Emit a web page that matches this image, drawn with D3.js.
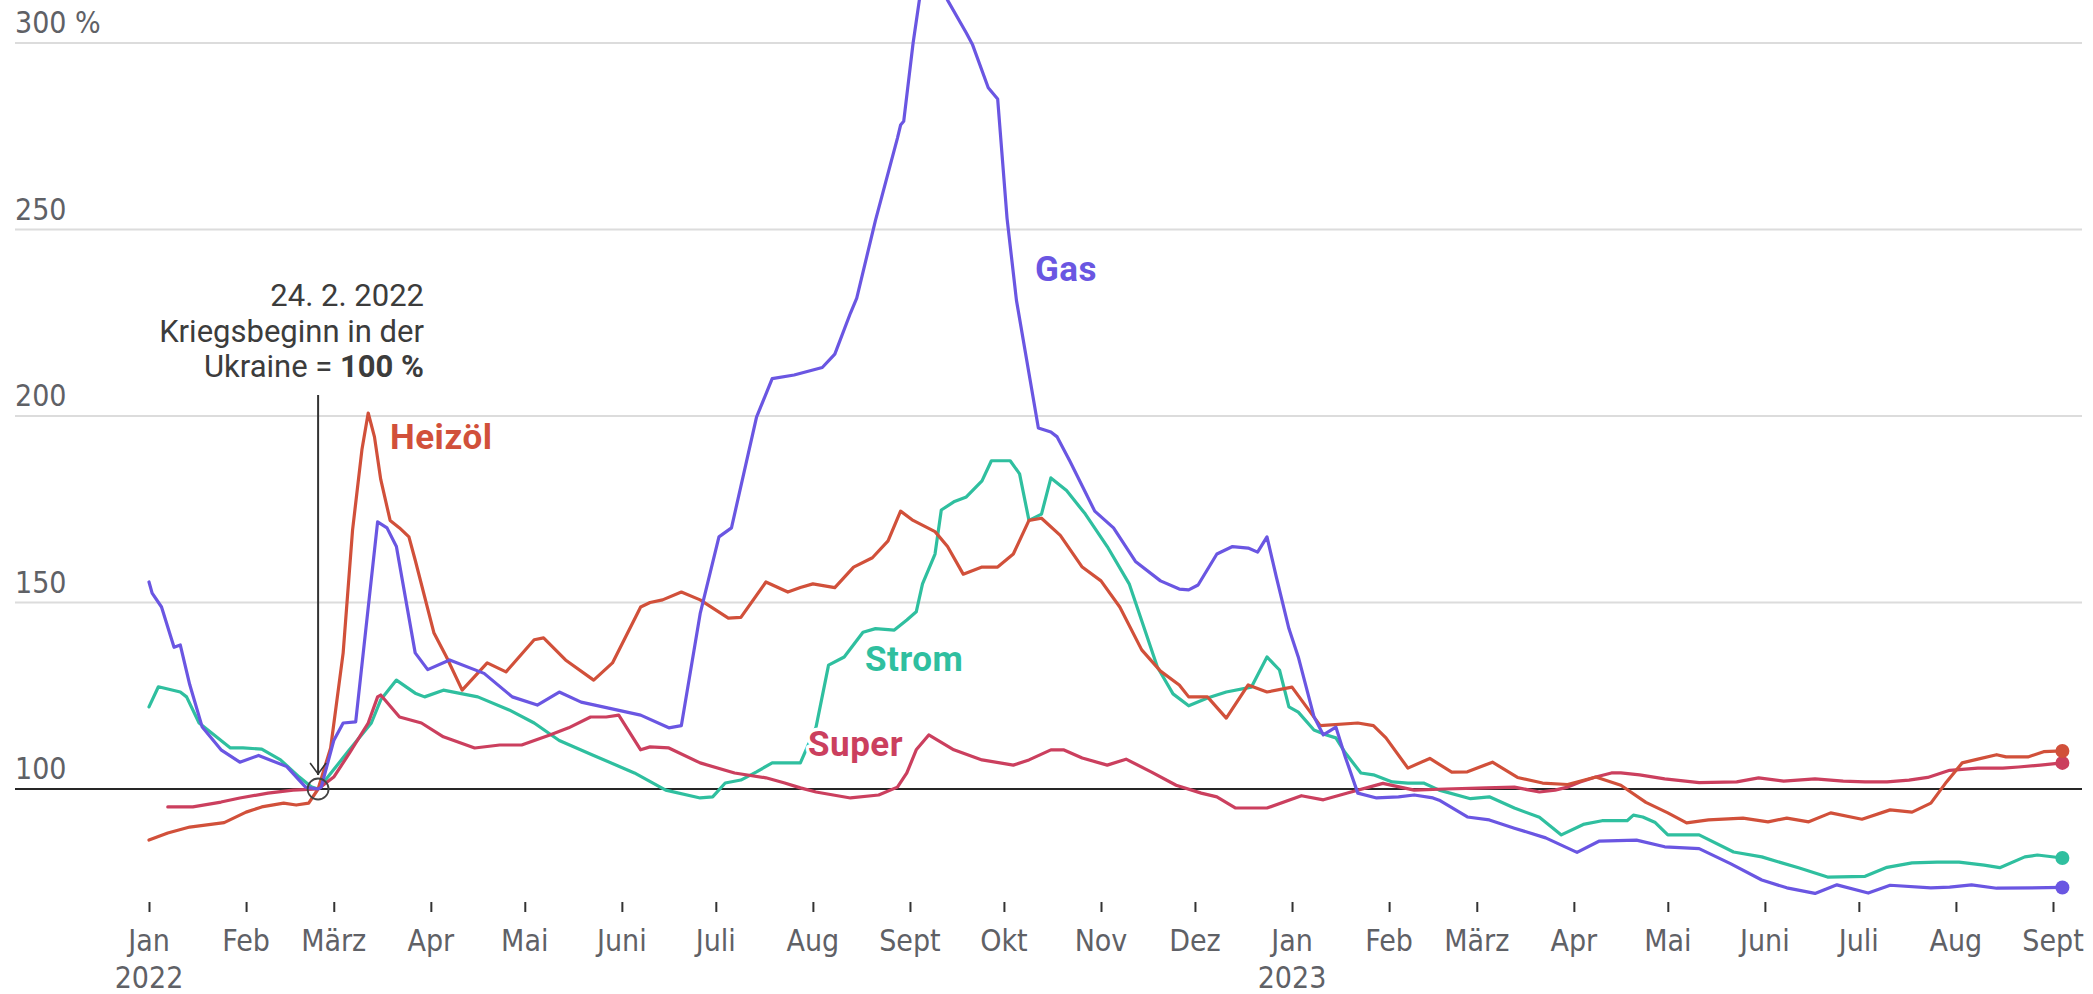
<!DOCTYPE html>
<html><head><meta charset="utf-8">
<script src="https://cdn.jsdelivr.net/npm/d3@7"></script>
<style>
html,body{margin:0;padding:0;background:#fff;}
svg{display:block;}
.ax{font-family:'DejaVu Sans Condensed','DejaVu Sans',sans-serif;font-stretch:condensed;font-size:30px;fill:#5f6166;}
.ann{font-family:Roboto,'Noto Sans',sans-serif;font-size:31px;fill:#3c3c3c;}
.lab{font-family:Roboto,'Noto Sans',sans-serif;font-size:35px;font-weight:700;letter-spacing:0.5px;stroke:#fff;stroke-width:7px;paint-order:stroke;stroke-linejoin:round;}
</style></head>
<body>
<script>
// ---- data ----
const monthLabels = ["Jan","Feb","März","Apr","Mai","Juni","Juli","Aug","Sept","Okt","Nov","Dez"];
const yTicks = [100,150,200,250,300];
const seriesNames = ["Strom","Super","Heizöl","Gas"];
const seriesColors = {Gas:"#6a56e2", "Heizöl":"#d1503a", Strom:"#2fbf9f", Super:"#cb3f5e"};

const gas = [
["2022-01-01",155.5],["2022-01-02",152.5],["2022-01-05",148.8],["2022-01-09",138],["2022-01-11",138.6],
["2022-01-14",128],["2022-01-18",116.6],["2022-01-24",110.5],["2022-01-30",107.2],["2022-02-05",109],
["2022-02-14",106],["2022-02-20",100.5],["2022-02-24",100],["2022-02-25",100.5],["2022-03-01",113],
["2022-03-04",117.7],["2022-03-08",118],["2022-03-15",171.6],["2022-03-18",170],["2022-03-21",165],
["2022-03-27",136.5],["2022-03-31",132],["2022-04-07",134.6],["2022-04-18",131],["2022-04-27",124.7],
["2022-05-05",122.5],["2022-05-12",126],["2022-05-19",123.3],["2022-06-07",119.8],["2022-06-16",116.4],
["2022-06-20",117],["2022-06-26",147],["2022-07-02",167.6],["2022-07-06",170],["2022-07-14",199.7],
["2022-07-19",210],["2022-07-26",211],["2022-08-04",213],["2022-08-08",216.6],["2022-08-13",227.6],
["2022-08-15",231.6],["2022-08-21",252.5],["2022-08-28",274.5],["2022-08-29",278],["2022-08-30",279],
["2022-09-02",300],["2022-09-04",311.5],["2022-09-08",320],["2022-09-13",311.5],["2022-09-19",302.7],
["2022-09-21",299.5],["2022-09-26",288],["2022-09-29",285],["2022-10-02",253],["2022-10-05",231],
["2022-10-12",196.8],["2022-10-16",195.7],["2022-10-18",194.4],["2022-10-22",188],["2022-10-30",174.5],
["2022-11-05",170],["2022-11-12",161],["2022-11-20",155.8],["2022-11-26",153.6],["2022-11-29",153.4],
["2022-12-02",154.7],["2022-12-08",163],["2022-12-13",165],["2022-12-18",164.6],["2022-12-21",163.5],
["2022-12-24",167.6],["2022-12-27",156.8],["2022-12-31",143],["2023-01-03",135.4],["2023-01-08",119.4],
["2023-01-11",114.5],["2023-01-15",116.6],["2023-01-18",108.6],["2023-01-22",98.9],["2023-01-28",97.6],
["2023-02-04",97.9],["2023-02-09",98.4],["2023-02-15",97.6],["2023-02-17",97],["2023-02-26",92.5],
["2023-03-05",91.7],["2023-03-13",89.5],["2023-03-23",86.9],["2023-04-02",83],["2023-04-09",86],
["2023-04-21",86.3],["2023-04-30",84.5],["2023-05-11",84],["2023-05-21",80],["2023-05-31",75.6],
["2023-06-08",73.5],["2023-06-17",72],["2023-06-24",74.3],["2023-07-04",72.1],["2023-07-11",74.2],
["2023-07-24",73.5],["2023-07-30",73.7],["2023-08-06",74.3],["2023-08-14",73.4],["2023-09-04",73.6]
];

const heizoel = [
["2022-01-01",86.3],["2022-01-07",88.2],["2022-01-14",89.8],["2022-01-25",91],["2022-02-01",93.8],
["2022-02-06",95.2],["2022-02-13",96.2],["2022-02-17",95.7],["2022-02-21",96.2],["2022-02-24",100],
["2022-02-28",111],["2022-03-04",136.5],["2022-03-07",169.4],["2022-03-10",191],["2022-03-12",200.8],
["2022-03-14",194.4],["2022-03-16",183],["2022-03-19",172],["2022-03-22",170],["2022-03-25",167.6],
["2022-03-27",161.4],["2022-04-02",141.8],["2022-04-06",135.4],["2022-04-11",126.5],["2022-04-19",133.8],
["2022-04-25",131.4],["2022-05-04",140],["2022-05-07",140.5],["2022-05-14",134.6],["2022-05-23",129.2],
["2022-05-29",133.8],["2022-06-07",148.8],["2022-06-10",150],["2022-06-14",150.7],["2022-06-20",152.8],
["2022-06-26",150.7],["2022-07-05",145.8],["2022-07-09",146],["2022-07-17",155.5],["2022-07-24",152.8],
["2022-07-28",154],["2022-08-01",155],["2022-08-08",154],["2022-08-14",159.5],["2022-08-20",162],
["2022-08-25",166.5],["2022-08-29",174.5],["2022-09-02",172],["2022-09-09",169],["2022-09-13",165],
["2022-09-18",157.6],["2022-09-24",159.5],["2022-09-29",159.5],["2022-10-04",163],["2022-10-09",172],
["2022-10-13",172.6],["2022-10-19",168],["2022-10-26",159.5],["2022-11-01",155.8],["2022-11-07",148.8],
["2022-11-14",137.3],["2022-11-20",131.6],["2022-11-26",127.9],["2022-11-29",124.7],["2022-12-05",124.7],
["2022-12-11",119],["2022-12-18",127.9],["2022-12-24",126],["2023-01-01",127.3],["2023-01-10",117],
["2023-01-22",117.7],["2023-01-27",117],["2023-01-31",113.7],["2023-02-07",105.6],["2023-02-14",108.2],
["2023-02-21",104.5],["2023-02-26",104.6],["2023-03-06",107.2],["2023-03-14",103.1],["2023-03-22",101.6],
["2023-03-30",101.2],["2023-04-08",103.2],["2023-04-16",101],["2023-04-24",96.4],["2023-05-01",93.6],
["2023-05-07",90.9],["2023-05-14",91.7],["2023-05-25",92.2],["2023-06-02",91.2],["2023-06-08",92.2],
["2023-06-15",91.2],["2023-06-22",93.6],["2023-07-02",91.9],["2023-07-11",94.4],["2023-07-18",93.8],
["2023-07-24",96.2],["2023-07-29",101.9],["2023-08-03",107],["2023-08-08",108],["2023-08-14",109.2],
["2023-08-17",108.6],["2023-08-24",108.6],["2023-08-29",110],["2023-09-04",110.2]
];

const strom = [
["2022-01-01",122],["2022-01-04",127.4],["2022-01-11",126],["2022-01-13",124.7],["2022-01-17",117.7],
["2022-01-27",111],["2022-01-31",111],["2022-02-06",110.7],["2022-02-12",107.8],["2022-02-18",103.2],
["2022-02-22",100.5],["2022-02-24",100],["2022-02-25",101],["2022-03-06",110.5],["2022-03-13",117.7],
["2022-03-16",123.9],["2022-03-21",129.2],["2022-03-27",125.7],["2022-03-30",124.7],["2022-04-05",126.5],
["2022-04-16",124.7],["2022-04-26",121.2],["2022-05-04",117.7],["2022-05-12",113],["2022-05-23",109],
["2022-06-05",104.3],["2022-06-15",99.7],["2022-06-26",97.6],["2022-06-30",97.9],["2022-07-04",101.6],
["2022-07-09",102.4],["2022-07-14",104.6],["2022-07-19",107],["2022-07-28",107],["2022-08-02",116.6],
["2022-08-06",133.2],["2022-08-11",135.4],["2022-08-17",142],["2022-08-21",143],["2022-08-27",142.6],
["2022-08-31",145.3],["2022-09-03",147.5],["2022-09-05",155],["2022-09-09",163],["2022-09-11",174.8],
["2022-09-15",177],["2022-09-19",178.3],["2022-09-24",182.6],["2022-09-27",188],["2022-10-03",188],
["2022-10-06",184.5],["2022-10-09",172],["2022-10-13",173.7],["2022-10-16",183.4],["2022-10-21",180],
["2022-10-27",173.7],["2022-11-03",165],["2022-11-10",155],["2022-11-15",142.6],["2022-11-19",132.7],
["2022-11-24",125.5],["2022-11-29",122.3],["2022-12-05",124.4],["2022-12-11",126],["2022-12-19",127.3],
["2022-12-24",135.4],["2022-12-28",131.9],["2022-12-31",122],["2023-01-03",120.6],["2023-01-08",115.8],
["2023-01-12",114.5],["2023-01-15",113.7],["2023-01-18",109.7],["2023-01-23",104.3],["2023-01-27",103.8],
["2023-02-02",101.9],["2023-02-07",101.6],["2023-02-12",101.6],["2023-02-17",99.7],["2023-02-27",97.4],
["2023-03-05",97.9],["2023-03-13",94.9],["2023-03-21",92.4],["2023-03-28",87.7],["2023-04-04",90.5],
["2023-04-10",91.5],["2023-04-18",91.5],["2023-04-20",93],["2023-04-23",92.5],["2023-04-27",91],
["2023-05-01",87.7],["2023-05-11",87.7],["2023-05-22",83.1],["2023-05-31",81.8],["2023-06-12",78.8],
["2023-06-21",76.4],["2023-07-03",76.6],["2023-07-10",79],["2023-07-18",80.2],["2023-07-26",80.4],
["2023-08-02",80.4],["2023-08-10",79.6],["2023-08-15",78.9],["2023-08-23",81.8],["2023-08-27",82.3],
["2023-09-04",81.5]
];

const superBenzin = [
["2022-01-07",95.2],["2022-01-15",95.2],["2022-01-24",96.5],["2022-01-30",97.6],["2022-02-08",98.9],
["2022-02-16",99.7],["2022-02-24",100],["2022-03-01",103.2],["2022-03-06",109.6],["2022-03-12",117.7],
["2022-03-15",124.7],["2022-03-16",125.2],["2022-03-22",119.3],["2022-03-29",117.7],["2022-04-05",114],
["2022-04-15",111],["2022-04-23",111.8],["2022-04-30",111.8],["2022-05-09",114.5],["2022-05-15",116.4],
["2022-05-22",119.3],["2022-05-27",119.3],["2022-05-31",119.8],["2022-06-07",110.5],["2022-06-10",111.3],
["2022-06-16",111],["2022-06-26",107],["2022-07-07",104.3],["2022-07-17",103],["2022-07-23",101.6],
["2022-07-28",100.3],["2022-08-02",99.2],["2022-08-13",97.6],["2022-08-22",98.4],["2022-08-28",100.5],
["2022-08-31",104.3],["2022-09-03",110.5],["2022-09-07",114.5],["2022-09-15",110.5],["2022-09-24",107.8],
["2022-10-04",106.4],["2022-10-09",107.8],["2022-10-16",110.5],["2022-10-20",110.5],["2022-10-26",108.3],
["2022-11-03",106.4],["2022-11-09",108],["2022-11-17",104.6],["2022-11-25",101],["2022-12-03",98.9],
["2022-12-08",97.9],["2022-12-14",94.9],["2022-12-24",94.9],["2023-01-04",98.2],["2023-01-11",97.1],
["2023-01-19",99],["2023-01-30",101.5],["2023-02-09",99.7],["2023-02-19",100],["2023-03-04",100.3],
["2023-03-13",100.5],["2023-03-21",99.2],["2023-03-26",99.7],["2023-03-30",100.5],["2023-04-03",101.9],
["2023-04-08",103.2],["2023-04-13",104.3],["2023-04-16",104.3],["2023-04-22",103.8],["2023-04-30",102.7],
["2023-05-11",101.7],["2023-05-23",101.9],["2023-05-30",103],["2023-06-07",102.1],["2023-06-17",102.7],
["2023-06-26",102.1],["2023-07-03",101.9],["2023-07-10",101.9],["2023-07-17",102.4],["2023-07-23",103.1],
["2023-07-30",105],["2023-08-08",105.6],["2023-08-16",105.6],["2023-08-21",105.9],["2023-08-28",106.4],
["2023-09-04",107]
];

const seriesData = {Gas:gas, "Heizöl":heizoel, Strom:strom, Super:superBenzin};
const warDate = "2022-02-24";

// ---- chart ----
const W = 2093, H = 994;
const parse = d3.utcParse("%Y-%m-%d");
const svg = d3.select("body").append("svg").attr("width", W).attr("height", H);

const x = d3.scaleUtc().domain([parse("2022-01-01"), parse("2023-09-01")]).range([149, 2053]);
const y = d3.scaleLinear().domain([100, 300]).range([789, 43]);

const gridX0 = 15, gridX1 = 2082;

// gridlines
svg.append("g").selectAll("line").data(yTicks.filter(v => v !== 100)).join("line")
  .attr("x1", gridX0).attr("x2", gridX1)
  .attr("y1", d => y(d)).attr("y2", d => y(d))
  .attr("stroke", "#dcdcdc").attr("stroke-width", 2);

// y labels
svg.append("g").selectAll("text").data(yTicks).join("text")
  .attr("class", "ax")
  .attr("x", gridX0).attr("y", d => y(d) - 10)
  .text(d => d === 300 ? d + " %" : d);

// x axis
const months = d3.utcMonth.range(parse("2022-01-01"), d3.utcDay.offset(parse("2023-09-01"), 1));
const xAxis = d3.axisBottom(x).tickValues(months).tickSize(10).tickFormat("");
const gx = svg.append("g").attr("transform", "translate(0,902)").call(xAxis);
gx.select(".domain").remove();
gx.selectAll(".tick line").attr("stroke", "#333").attr("stroke-width", 2);

const xl = svg.append("g").selectAll("text").data(months).join("text")
  .attr("class", "ax").attr("text-anchor", "middle")
  .attr("x", d => x(d)).attr("y", 951);
xl.append("tspan").text(d => monthLabels[d.getUTCMonth()]);
xl.filter(d => d.getUTCMonth() === 0).append("tspan")
  .attr("x", d => x(d)).attr("y", 988).text(d => d.getUTCFullYear());

// baseline 100
svg.append("line").attr("x1", gridX0).attr("x2", gridX1)
  .attr("y1", y(100)).attr("y2", y(100)).attr("stroke", "#262626").attr("stroke-width", 2.2);

// lines
const line = d3.line().x(d => x(parse(d[0]))).y(d => y(d[1]));
seriesNames.forEach(name => {
  svg.append("path").datum(seriesData[name])
    .attr("d", line).attr("fill", "none")
    .attr("stroke", seriesColors[name]).attr("stroke-width", 3.2)
    .attr("stroke-linejoin", "round").attr("stroke-linecap", "round");
});
// end dots
seriesNames.forEach(name => {
  const last = seriesData[name][seriesData[name].length - 1];
  svg.append("circle").attr("cx", x(parse(last[0]))).attr("cy", y(last[1]))
    .attr("r", 7).attr("fill", seriesColors[name]);
});

// annotation
const wx = x(parse(warDate)), wy = y(100);
svg.append("line").attr("x1", wx).attr("x2", wx).attr("y1", 395).attr("y2", wy - 14)
  .attr("stroke", "#333").attr("stroke-width", 2);
svg.append("path").attr("d", `M${wx-8},${wy-26}L${wx},${wy-15}L${wx+8},${wy-26}`)
  .attr("fill", "none").attr("stroke", "#333").attr("stroke-width", 1.6);
svg.append("circle").attr("cx", wx).attr("cy", wy).attr("r", 10.5)
  .attr("fill", "none").attr("stroke", "#444").attr("stroke-width", 1.8);

const ann = svg.append("text").attr("class", "ann").attr("text-anchor", "end");
ann.append("tspan").attr("x", 424).attr("y", 306).text("24. 2. 2022");
ann.append("tspan").attr("x", 424).attr("y", 342).text("Kriegsbeginn in der");
const l3 = ann.append("tspan").attr("x", 424).attr("y", 377);
l3.append("tspan").text("Ukraine = ");
l3.append("tspan").attr("font-weight", 700).text("100 %");

// series labels
const labels = [
  {name:"Gas", x:1035, y:281},
  {name:"Heizöl", x:390, y:449},
  {name:"Strom", x:865, y:671},
  {name:"Super", x:808, y:756}
];
svg.append("g").selectAll("text").data(labels).join("text")
  .attr("class", "lab").attr("x", d => d.x).attr("y", d => d.y)
  .attr("fill", d => seriesColors[d.name]).text(d => d.name);
</script>
</body></html>
